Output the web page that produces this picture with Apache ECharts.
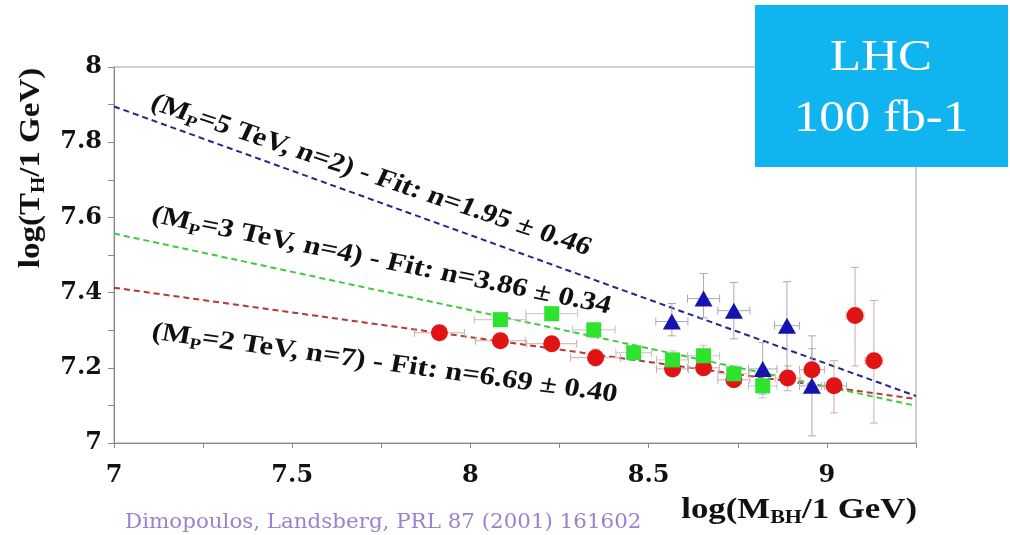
<!DOCTYPE html>
<html><head><meta charset="utf-8">
<script src="https://cdn.jsdelivr.net/npm/echarts@6/dist/echarts.min.js"></script>
<style>html,body{margin:0;padding:0;background:#fff}#c{width:1010px;height:535px}</style>
</head><body><div id="c"></div>
<script>
// ---- data ----
const fitX = [7, 9.25];
const blueFit = [7.895, 7.125];
const greenFit = [7.557, 7.099];
const redFit = [7.413, 7.117];

const redX = [7.913, 8.084, 8.228, 8.351, 8.567, 8.654, 8.739, 8.890, 8.958, 9.020, 9.079, 9.132];
const redY = [7.293, 7.272, 7.264, 7.227, 7.197, 7.200, 7.168, 7.173, 7.195, 7.152, 7.339, 7.219];
const redXErr = [0.07, 0.07, 0.07, 0.07, 0.045, 0.045, 0.045, 0.035, 0.035, 0.035, 0.025, 0.025];
const redYLow = [7.275, 7.255, 7.245, 7.205, 7.18, 7.18, 7.15, 7.139, 7.16, 7.080, 7.205, 7.053];
const redYHigh = [7.31, 7.29, 7.28, 7.25, 7.215, 7.22, 7.19, 7.205, 7.251, 7.219, 7.467, 7.379];

const greenX = [8.084, 8.228, 8.346, 8.458, 8.567, 8.654, 8.739, 8.820];
const greenY = [7.328, 7.344, 7.301, 7.240, 7.221, 7.232, 7.184, 7.152];
const greenXErr = [0.073, 0.073, 0.06, 0.05, 0.045, 0.045, 0.045, 0.04];
const greenYLow = [7.31, 7.325, 7.28, 7.225, 7.20, 7.205, 7.165, 7.12];
const greenYHigh = [7.345, 7.36, 7.32, 7.255, 7.245, 7.26, 7.205, 7.19];

const blueX = [8.565, 8.654, 8.739, 8.820, 8.888, 8.958];
const blueY = [7.323, 7.384, 7.352, 7.197, 7.312, 7.152];
const blueXErr = [0.045, 0.045, 0.045, 0.04, 0.035, 0.035];
const blueYLow = [7.285, 7.333, 7.277, 7.13, 7.18, 7.019];
const blueYHigh = [7.371, 7.451, 7.427, 7.267, 7.429, 7.285];

const xTickLabels = ['7', '7.5', '8', '8.5', '9'];
const yTickLabels = ['7', '7.2', '7.4', '7.6', '7.8', '8'];

const annotations = [
  ['(M', 'P', '=5 TeV, n=2) - Fit: n=1.95 \u00b1 0.46'],
  ['(M', 'P', '=3 TeV, n=4) - Fit: n=3.86 \u00b1 0.34'],
  ['(M', 'P', '=2 TeV, n=7) - Fit: n=6.69 \u00b1 0.40']
];
const yTitle = ['log(T', 'H', '/1 GeV)'];
const xTitle = ['log(M', 'BH', '/1 GeV)'];
const citation = 'Dimopoulos, Landsberg, PRL 87 (2001) 161602';
const boxLines = ['LHC', '100 fb-1'];

// ---- chart ----
const SERIF = 'Liberation Serif';
const TICKFONT = 'DejaVu Serif';
const chart = echarts.init(document.getElementById('c'), null, {renderer: 'canvas'});

function pairs(xs, ys) { return xs.map((x, i) => [x, ys[i]]); }

function errSeries(xs, ys, xe, lo, hi, color) {
  return {
    type: 'custom',
    silent: true,
    z: 3,
    dimensions: ['x', 'y', 'xe', 'lo', 'hi'],
    encode: {x: 0, y: 1},
    data: xs.map((x, i) => [x, ys[i], xe[i], lo[i], hi[i]]),
    renderItem(params, api) {
      const x = api.value(0), y = api.value(1), e = api.value(2), l = api.value(3), h = api.value(4);
      const c = api.coord([x, y]);
      const cl = api.coord([x - e, y]), cr = api.coord([x + e, y]);
      const cb = api.coord([x, l]), ct = api.coord([x, h]);
      const cap = 4;
      const st = {stroke: color, lineWidth: 1};
      return {type: 'group', children: [
        {type: 'line', shape: {x1: cl[0], y1: c[1], x2: cr[0], y2: c[1]}, style: st},
        {type: 'line', shape: {x1: c[0], y1: cb[1], x2: c[0], y2: ct[1]}, style: st},
        {type: 'line', shape: {x1: cl[0], y1: c[1] - cap, x2: cl[0], y2: c[1] + cap}, style: st},
        {type: 'line', shape: {x1: cr[0], y1: c[1] - cap, x2: cr[0], y2: c[1] + cap}, style: st},
        {type: 'line', shape: {x1: c[0] - cap, y1: cb[1], x2: c[0] + cap, y2: cb[1]}, style: st},
        {type: 'line', shape: {x1: c[0] - cap, y1: ct[1], x2: c[0] + cap, y2: ct[1]}, style: st}
      ]};
    }
  };
}

function fitLine(ys, color) {
  return {
    type: 'line', data: pairs(fitX, ys), symbol: 'none', silent: true, z: 2,
    lineStyle: {color: color, width: 2, type: [6, 4]}
  };
}

function richParts(parts, size, subSize, subPad) {
  return {
    text: '{t|' + parts[0] + '}{s|' + parts[1] + '}{t|' + parts[2] + '}',
    rich: {
      t: {fontFamily: SERIF, fontWeight: 'bold', fontSize: size, fill: '#111'},
      s: {fontFamily: SERIF, fontWeight: 'bold', fontSize: subSize, fill: '#111', padding: [subPad, 0, 0, 0]}
    }
  };
}

// horizontal stretch of the original figure
const SX = 1.18;
const annPos = [
  {x: 152, y: 102, rot: 21.6},
  {x: 152, y: 215, rot: 13.3},
  {x: 152, y: 332, rot: 9.1}
];

const graphics = [];
annotations.forEach((a, i) => {
  const r = richParts(a, 26, 16, 14);
  graphics.push({
    type: 'group', x: annPos[i].x, y: annPos[i].y, scaleX: SX, z: 50,
    children: [{
      type: 'text', rotation: -annPos[i].rot * Math.PI / 180, z: 50,
      style: Object.assign({align: 'left', verticalAlign: 'middle'}, r)
    }]
  });
});
graphics.push({
  type: 'group', x: 31, y: 168, scaleY: 1.1, z: 50,
  children: [{type: 'text', rotation: Math.PI / 2, z: 50,
    style: Object.assign({align: 'center', verticalAlign: 'middle'}, richParts(yTitle, 30, 19, 16))}]
});
graphics.push({
  type: 'group', x: 917, y: 510, scaleX: 1.16, z: 50,
  children: [{type: 'text', z: 50,
    style: Object.assign({align: 'right', verticalAlign: 'middle'}, richParts(xTitle, 30, 19, 16))}]
});
graphics.push({
  type: 'group', x: 125, y: 523, scaleX: 1.07, z: 50,
  children: [{type: 'text', z: 50,
    style: {text: citation, fill: '#9c82ce', fontFamily: 'DejaVu Serif', fontSize: 20, align: 'left', verticalAlign: 'middle'}}]
});
graphics.push({type: 'rect', shape: {x: 755, y: 5, width: 253, height: 162}, style: {fill: '#10b4ef'}, z: 60});
graphics.push({
  type: 'group', x: 881, y: 0, scaleX: 1.16, z: 61,
  children: [
    {type: 'text', x: 0, y: 58, z: 61,
      style: {text: boxLines[0], fill: '#ffffff', fontFamily: SERIF, fontSize: 44, align: 'center', verticalAlign: 'middle'}},
    {type: 'text', x: 0, y: 119, z: 61,
      style: {text: boxLines[1], fill: '#ffffff', fontFamily: SERIF, fontSize: 44, align: 'center', verticalAlign: 'middle'}}
  ]
});

function fmtX(v) {
  const k = Math.round(v * 4);
  if (k % 2 !== 0) return '';
  const idx = Math.round((v - 7) / 0.5);
  return xTickLabels[idx] !== undefined ? xTickLabels[idx] : '';
}
function fmtY(v) {
  const k = Math.round(v * 10);
  if (k % 2 !== 0) return '';
  const idx = Math.round((v - 7) / 0.2);
  return yTickLabels[idx] !== undefined ? yTickLabels[idx] : '';
}

chart.setOption({
  animation: false,
  backgroundColor: '#ffffff',
  grid: {left: 114, right: 94, top: 67, bottom: 92, show: true, borderColor: '#a0a0a0', borderWidth: 1, backgroundColor: 'transparent'},
  xAxis: {
    type: 'value', min: 7, max: 9.25, interval: 0.25,
    splitLine: {show: false},
    axisLine: {onZero: false, lineStyle: {color: '#888', width: 1}},
    axisTick: {inside: false, length: 5, lineStyle: {color: '#888'}},
    axisLabel: {formatter: fmtX, color: '#111', fontFamily: TICKFONT, fontWeight: 'bold', fontSize: 24, margin: 21, showMaxLabel: true}
  },
  yAxis: {
    type: 'value', min: 7, max: 8, interval: 0.1,
    splitLine: {show: false},
    axisLine: {show: true, lineStyle: {color: '#888', width: 1}},
    axisTick: {show: true, inside: false, length: 6, lineStyle: {color: '#888'}},
    axisLabel: {formatter: fmtY, color: '#111', fontFamily: TICKFONT, fontWeight: 'bold', fontSize: 24, margin: 12}
  },
  graphic: graphics,
  series: [
    fitLine(redFit, '#b83838'),
    fitLine(greenFit, '#3ccc3c'),
    fitLine(blueFit, '#26268a'),
    errSeries(redX, redY, redXErr, redYLow, redYHigh, '#cfaaaa'),
    errSeries(greenX, greenY, greenXErr, greenYLow, greenYHigh, '#bcc8bc'),
    errSeries(blueX, blueY, blueXErr, blueYLow, blueYHigh, '#a8a8bc'),
    {type: 'scatter', data: pairs(redX, redY), symbol: 'circle', symbolSize: 17, z: 4,
      itemStyle: {color: '#e01414', opacity: 1}},
    {type: 'scatter', data: pairs(greenX, greenY), symbol: 'rect', symbolSize: 15, z: 5,
      itemStyle: {color: '#2ee32e', opacity: 1}},
    {type: 'scatter', data: pairs(blueX, blueY), symbol: 'triangle', symbolSize: [18, 16], z: 6,
      itemStyle: {color: '#1414b0', opacity: 1}}
  ]
});
</script>
</body></html>
